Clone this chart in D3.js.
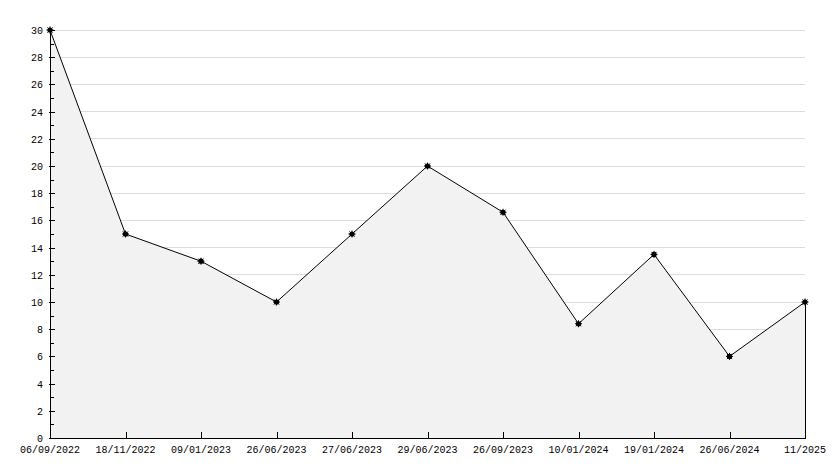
<!DOCTYPE html>
<html><head><meta charset="utf-8">
<script src="https://cdn.jsdelivr.net/npm/d3@7"></script>
<style>body{margin:0;background:#fff}svg{display:block}text{font-family:"Liberation Mono","DejaVu Sans Mono",monospace;font-size:10px;fill:#000}</style>
</head><body>
<svg id="c" width="834" height="468"></svg>
<script>
const categories = ["06/09/2022","18/11/2022","09/01/2023","26/06/2023","27/06/2023","29/06/2023","26/09/2023","10/01/2024","19/01/2024","26/06/2024","11/2025"];
const values = [30,15,13,10,15,20,16.6,8.4,13.5,6,10];
const yTicks = [0,2,4,6,8,10,12,14,16,18,20,22,24,26,28,30];
const yMinor = [1,3,5,7,9,11,13,15,17,19,21,23,25,27,29];

const svg = d3.select("#c");
const L=50,R=805,T=30,B=438;
const x = d3.scalePoint().domain(categories).range([L,R]);
const y = d3.scaleLinear().domain([0,30]).range([B,T]);

// grid
svg.append("g").selectAll("line").data(yTicks.filter(d=>d>0)).join("line")
  .attr("x1",L).attr("x2",R).attr("y1",d=>y(d)).attr("y2",d=>y(d))
  .attr("stroke","#dcdcdc").attr("shape-rendering","crispEdges");

// area
const data = categories.map((c,i)=>({c,v:values[i]}));
svg.append("path").datum(data)
  .attr("d", d3.area().x(d=>x(d.c)).y0(B).y1(d=>y(d.v)))
  .attr("fill","#f2f2f2");
svg.append("path").datum(data)
  .attr("d", d3.line().x(d=>x(d.c)).y(d=>y(d.v)))
  .attr("fill","none").attr("stroke","#000").attr("stroke-width",1);
// right edge
const last = data[data.length-1];
svg.append("line").attr("x1",x(last.c)+0.5).attr("x2",x(last.c)+0.5)
  .attr("y1",y(last.v)).attr("y2",B).attr("stroke","#000");

// y axis
const ya = svg.append("g").attr("transform",`translate(${L},0)`)
  .call(d3.axisRight(y).tickValues(yTicks).tickSize(5).tickFormat(""));
ya.select(".domain").remove();
ya.selectAll(".tick line").attr("x1",-1).attr("shape-rendering","crispEdges");
svg.append("g").attr("transform",`translate(${L},0)`)
  .call(d3.axisRight(y).tickValues(yMinor).tickSize(4).tickFormat(""))
  .call(g=>g.select(".domain").remove())
  .selectAll(".tick line").attr("shape-rendering","crispEdges");
svg.append("g").selectAll("text").data(yTicks).join("text")
  .attr("x",L-7).attr("y",d=>y(d)+4).attr("text-anchor","end").text(d=>d);
svg.append("line").attr("x1",L+0.5).attr("x2",L+0.5).attr("y1",T).attr("y2",B+1).attr("stroke","#000");

// x axis
const xa = svg.append("g").attr("transform",`translate(0,${B})`)
  .call(d3.axisTop(x).tickSize(6).tickFormat(""));
xa.select(".domain").remove();
xa.selectAll(".tick line").attr("shape-rendering","crispEdges");
svg.append("line").attr("x1",L).attr("x2",R+1).attr("y1",B+0.5).attr("y2",B+0.5).attr("stroke","#000");
svg.append("g").selectAll("text").data(categories).join("text")
  .attr("x",d=>x(d)).attr("y",B+15).attr("text-anchor","middle").text(d=>d);

// markers
const mk = svg.append("g").selectAll("g").data(data).join("g")
  .attr("transform",d=>`translate(${x(d.c)},${y(d.v)})`);
mk.append("circle").attr("r",2.6).attr("fill","#000");
mk.append("path").attr("d","M-3.5,0H3.5M0,-3.5V3.5M-2.6,-2.6L2.6,2.6M-2.6,2.6L2.6,-2.6")
  .attr("stroke","#000").attr("stroke-width",1);
</script>
</body></html>
